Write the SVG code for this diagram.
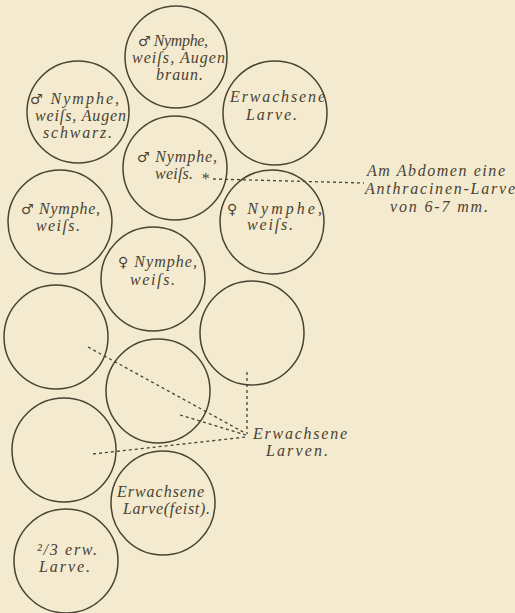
<svg xmlns="http://www.w3.org/2000/svg" width="515" height="613" viewBox="0 0 515 613">
<style>
.c{fill:none;stroke:#4a4232;stroke-width:1.5}
.t{font-family:"Liberation Serif","DejaVu Serif",serif;font-style:italic;font-size:16px;fill:#4a4232}
.s{font-family:"DejaVu Sans",sans-serif;font-style:normal;font-size:14px}
.d{fill:none;stroke:#4a4232;stroke-width:1.3;stroke-dasharray:3 3}
</style>
<rect width="515" height="613" fill="#f4eacf"/>
<g id="n1"><circle class="c" cx="176" cy="57" r="51"/>
<text class="t" x="138" y="46" textLength="70"><tspan class="s">♂</tspan> Nymphe,</text>
<text class="t" x="132" y="63" textLength="93">weiſs, Augen</text>
<text class="t" x="156" y="80" textLength="47">braun.</text></g>
<g id="n2"><circle class="c" cx="78" cy="112" r="51"/>
<text class="t" x="30" y="104" textLength="89"><tspan class="s">♂</tspan> Nymphe,</text>
<text class="t" x="35" y="121" textLength="91">weiſs, Augen</text>
<text class="t" x="43" y="138" textLength="69">schwarz.</text></g>
<g id="n3"><circle class="c" cx="275" cy="113" r="52"/>
<text class="t" x="230" y="102" textLength="95">Erwachsene</text>
<text class="t" x="246" y="120" textLength="51">Larve.</text></g>
<g id="n4"><circle class="c" cx="175" cy="168" r="52"/>
<text class="t" x="137" y="162" textLength="80"><tspan class="s">♂</tspan> Nymphe,</text>
<text class="t" x="155" y="179" textLength="38">weiſs.</text>
<text class="t" x="201" y="184">*</text></g>
<g id="n5"><circle class="c" cx="272" cy="222" r="52"/>
<text class="t" x="227" y="214" textLength="95"><tspan class="s">♀</tspan> Nymphe,</text>
<text class="t" x="247" y="230" textLength="46">weiſs.</text></g>
<g id="n6"><circle class="c" cx="60" cy="222" r="52"/>
<text class="t" x="21" y="214" textLength="79"><tspan class="s">♂</tspan> Nymphe,</text>
<text class="t" x="36" y="231" textLength="44">weiſs.</text></g>
<g id="n7"><circle class="c" cx="153" cy="279" r="52"/>
<text class="t" x="118" y="267" textLength="79"><tspan class="s">♀</tspan> Nymphe,</text>
<text class="t" x="130" y="285" textLength="45">weiſs.</text></g>
<g id="n8"><circle class="c" cx="56" cy="337" r="52"/></g>
<g id="n9"><circle class="c" cx="252" cy="333" r="52"/></g>
<g id="n10"><circle class="c" cx="158" cy="391" r="52"/></g>
<g id="n11"><circle class="c" cx="64" cy="450" r="52"/></g>
<g id="n12"><circle class="c" cx="163" cy="503" r="52"/>
<text class="t" x="117" y="497" textLength="87">Erwachsene</text>
<text class="t" x="123" y="514" textLength="87">Larve(feist).</text></g>
<g id="n13"><circle class="c" cx="66" cy="561" r="52"/>
<text class="t" x="37" y="555" textLength="60">²/3 erw.</text>
<text class="t" x="39" y="572" textLength="51">Larve.</text></g>
<g id="labels">
<text class="t" x="367" y="176" textLength="138">Am Abdomen eine</text>
<text class="t" x="365" y="194" textLength="150">Anthracinen-Larve</text>
<text class="t" x="390" y="212" textLength="98">von 6-7 mm.</text>
<text class="t" x="253" y="439" textLength="94">Erwachsene</text>
<text class="t" x="266" y="456" textLength="62">Larven.</text>
</g>
<g id="connectors">
<path class="d" d="M213 179 L364 183"/>
<path class="d" d="M247 372 L247 434"/>
<path class="d" d="M88 347 L245 433"/>
<path class="d" d="M180 415 L246 435"/>
<path class="d" d="M93 454 L246 437"/>
</g>
</svg>
